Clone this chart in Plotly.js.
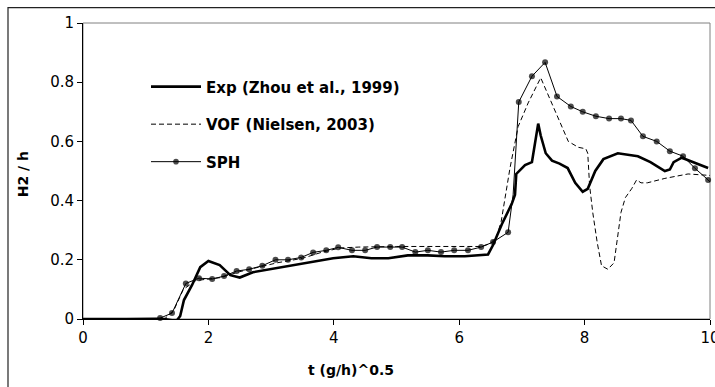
<!DOCTYPE html>
<html>
<head>
<meta charset="utf-8">
<script src="https://cdn.plot.ly/plotly-3.0.1.min.js"></script>
<style>html,body{margin:0;padding:0;background:#fff;}#chart{width:715px;height:387px;}</style>
</head>
<body>
<div id="chart"></div>
<script>
// ---- data ----
var xTicks = [0, 2, 4, 6, 8, 10];
var yTicks = [0, 0.2, 0.4, 0.6, 0.8, 1];

var expName = "Exp (Zhou et al., 1999)";
var expX = [0, 1.3, 1.42, 1.5, 1.55, 1.61, 1.74, 1.87, 2.0, 2.18, 2.35, 2.5, 2.71, 3.19, 3.67, 3.99, 4.31, 4.6, 4.87, 5.18, 5.5, 5.77, 6.09, 6.46, 6.54, 6.68, 6.84, 6.89, 6.91, 7.05, 7.16, 7.22, 7.26, 7.3, 7.38, 7.48, 7.6, 7.73, 7.85, 7.97, 8.05, 8.17, 8.3, 8.53, 8.85, 9.05, 9.28, 9.36, 9.42, 9.55, 9.73, 9.97];
var expY = [0, 0, -0.004, -0.004, 0.01, 0.064, 0.115, 0.175, 0.196, 0.182, 0.148, 0.14, 0.158, 0.175, 0.192, 0.205, 0.212, 0.205, 0.205, 0.215, 0.215, 0.212, 0.212, 0.218, 0.25, 0.32, 0.39, 0.42, 0.49, 0.52, 0.53, 0.6, 0.66, 0.62, 0.56, 0.535, 0.525, 0.51, 0.46, 0.43, 0.44, 0.5, 0.54, 0.56, 0.55, 0.53, 0.5, 0.505, 0.53, 0.545, 0.53, 0.51];

var vofName = "VOF (Nielsen, 2003)";
var vofX = [0, 1.3, 1.45, 1.6, 1.8, 2.0, 2.2, 2.5, 2.8, 3.1, 3.5, 3.8, 4.1, 4.4, 5.0, 5.5, 6.0, 6.35, 6.5, 6.6, 6.67, 6.73, 6.81, 6.94, 7.1, 7.3, 7.53, 7.74, 7.9, 8.02, 8.05, 8.08, 8.13, 8.2, 8.27, 8.37, 8.47, 8.52, 8.58, 8.65, 8.75, 8.83, 8.9, 9.0, 9.28, 9.65, 10];
var vofY = [0, 0, 0.03, 0.1, 0.13, 0.135, 0.14, 0.16, 0.175, 0.19, 0.205, 0.225, 0.24, 0.243, 0.245, 0.245, 0.243, 0.245, 0.255, 0.28, 0.33, 0.41, 0.51, 0.65, 0.73, 0.815, 0.7, 0.6, 0.58, 0.575, 0.56, 0.45, 0.36, 0.26, 0.18, 0.168, 0.19, 0.26, 0.36, 0.41, 0.44, 0.47, 0.46, 0.46, 0.475, 0.49, 0.485];

var sphName = "SPH";
var sphX = [0, 1.23, 1.42, 1.64, 1.85, 2.06, 2.25, 2.45, 2.65, 2.86, 3.07, 3.27, 3.48, 3.67, 3.88, 4.07, 4.29, 4.5, 4.69, 4.9, 5.09, 5.3, 5.5, 5.71, 5.92, 6.14, 6.35, 6.54, 6.78, 6.86, 6.95, 7.16, 7.37, 7.56, 7.78, 7.97, 8.18, 8.39, 8.58, 8.74, 8.93, 9.15, 9.36, 9.57, 9.76, 9.97, 10.1];
var sphY = [0, 0.003, 0.02, 0.12, 0.138, 0.135, 0.145, 0.162, 0.168, 0.18, 0.2, 0.2, 0.208, 0.225, 0.232, 0.242, 0.232, 0.232, 0.243, 0.243, 0.243, 0.226, 0.232, 0.226, 0.232, 0.232, 0.243, 0.26, 0.293, 0.42, 0.733, 0.82, 0.867, 0.752, 0.718, 0.7, 0.685, 0.677, 0.677, 0.671, 0.617, 0.6, 0.567, 0.55, 0.509, 0.47, 0.44];
// 1 = a plotted SPH sample dot, 0 = line vertex only
var sphDot = [0, 1, 1, 1, 1, 1, 1, 1, 1, 1, 1, 1, 1, 1, 1, 1, 1, 1, 1, 1, 1, 1, 1, 1, 1, 1, 1, 1, 1, 0, 1, 1, 1, 1, 1, 1, 1, 1, 1, 1, 1, 1, 1, 1, 1, 1, 0];

var xTitle = "t (g/h)^0.5";
var yTitle = "H2 / h";

// ---- chart ----
var L = 83, R = 5, T = 22.5, B = 68, W = 715, H = 387;
var pw = W - L - R, ph = H - T - B;
function px2x(p) { return (p - L) / pw; }
function py2y(p) { return (H - B - p) / ph; }

var traces = [
  {x: expX, y: expY, name: expName, type: "scatter", mode: "lines", legendgroup: "a",
   line: {color: "#000", width: 2.6}},
  {x: vofX, y: vofY, name: vofName, type: "scatter", mode: "lines", legendgroup: "b",
   line: {color: "#000", width: 1, dash: "5px,3px"}},
  {x: sphX, y: sphY, name: sphName, type: "scatter", mode: "lines+markers", legendgroup: "c",
   line: {color: "#000", width: 1},
   marker: {color: "#000", size: sphDot.map(function (d) { return d ? 6 : 0; }), line: {width: 0}},
   cliponaxis: false}
];

var tickFont = {family: "DejaVu Sans, Arial, sans-serif", size: 15, color: "#000"};
var boldFont = {family: "DejaVu Sans, Arial, sans-serif", size: 14, color: "#000", weight: "bold"};

var layout = {
  width: W, height: H,
  margin: {l: L, r: R, t: T, b: B, pad: 0},
  paper_bgcolor: "#fff", plot_bgcolor: "#fff",
  showlegend: true,
  legend: {x: px2x(146), y: py2y(70), xanchor: "left", yanchor: "top",
           bgcolor: "rgba(0,0,0,0)", borderwidth: 0, tracegroupgap: 15,
           itemwidth: 50,
           font: {family: "DejaVu Sans, Arial, sans-serif", size: 15, color: "#000", weight: "bold"}},
  xaxis: {range: [0, 10], tickvals: xTicks, ticktext: xTicks.map(String), ticks: "outside", ticklen: 5,
          tickcolor: "#000", showline: true, linecolor: "#000", linewidth: 1, showgrid: false,
          zeroline: false, tickfont: tickFont, ticklabeloverflow: "allow"},
  yaxis: {range: [0, 1], tickvals: yTicks, ticktext: yTicks.map(String), ticks: "outside", ticklen: 5,
          tickcolor: "#000", showline: true, linecolor: "#000", linewidth: 1, showgrid: false,
          zeroline: false, tickfont: tickFont, ticklabeloverflow: "allow"},
  shapes: [
    {type: "rect", xref: "paper", yref: "paper", x0: 0, x1: 1, y0: 0, y1: 1,
     line: {color: "#808080", width: 1}, layer: "below"},
    {type: "rect", xref: "paper", yref: "paper", x0: px2x(8), x1: px2x(760), y0: py2y(420), y1: py2y(7),
     line: {color: "#222", width: 1.2}, layer: "below"}
  ],
  annotations: [
    {text: xTitle, xref: "paper", yref: "paper", x: px2x(351), y: py2y(370), xanchor: "center", yanchor: "middle",
     showarrow: false, font: boldFont},
    {text: yTitle, xref: "paper", yref: "paper", x: px2x(23), y: py2y(174), xanchor: "center", yanchor: "middle",
     textangle: -90, showarrow: false, font: boldFont}
  ]
};

Plotly.newPlot("chart", traces, layout, {staticPlot: true, displayModeBar: false});
</script>
</body>
</html>
